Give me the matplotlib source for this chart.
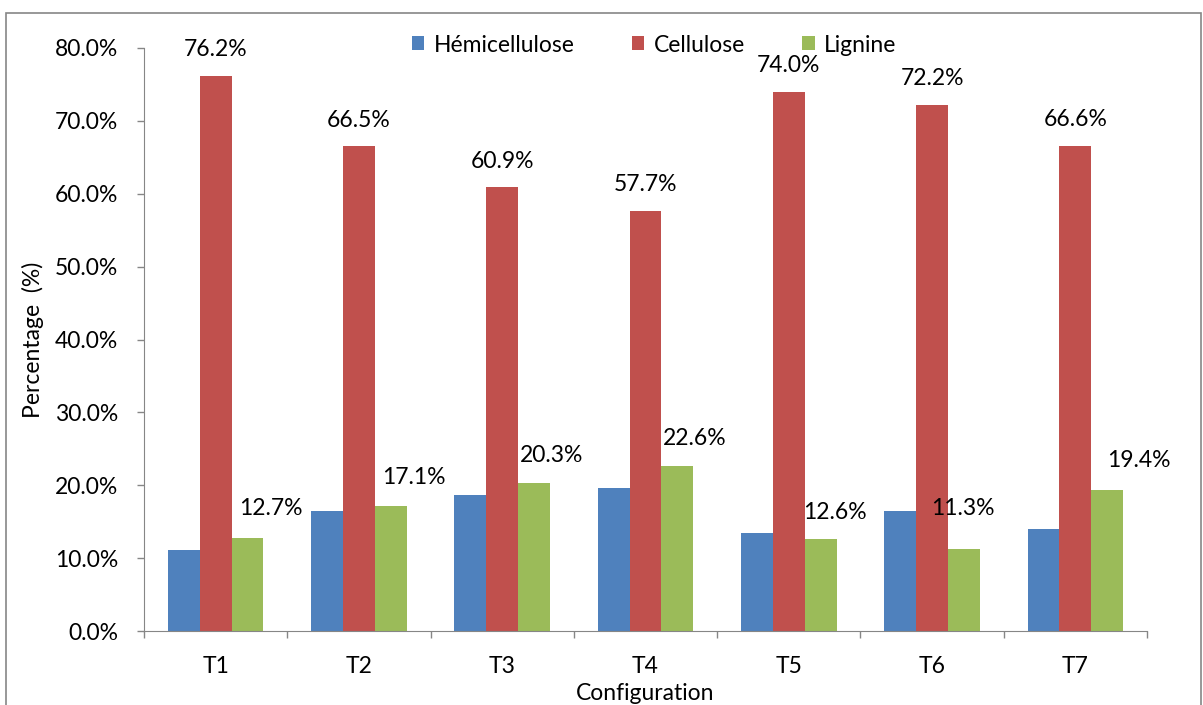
import matplotlib
matplotlib.use('Agg')
import matplotlib.pyplot as plt
import matplotlib.patches as mpatches
import numpy as np

configs = ['T1', 'T2', 'T3', 'T4', 'T5', 'T6', 'T7']
hemicellulose = [11.1, 16.4, 18.7, 19.6, 13.4, 16.5, 14.0]
cellulose = [76.2, 66.5, 60.9, 57.7, 74.0, 72.2, 66.6]
lignine = [12.7, 17.1, 20.3, 22.6, 12.6, 11.3, 19.4]

# hand placed lignine labels (pixel offsets from bar top)
lig_dx = [23, 23, 18, 17, 14, -1, 32]
lig_dy = [30, 29, 28, 28, 27, 40, 29]

plt.rcParams['font.family'] = ['Lato', 'DejaVu Sans']
fs = 16.5
gray = '#868686'

W, H = 1203, 705
fig = plt.figure(figsize=(W / 100, H / 100), dpi=100)
ax = fig.add_axes([144 / W, 1 - 631 / H, 1003 / W, 583 / H])

x = np.arange(len(configs))
w = 1 / 4.5
b1 = ax.bar(x - w, hemicellulose, w, color='#4F81BD', label='Hémicellulose')
b2 = ax.bar(x, cellulose, w, color='#C0504D', label='Cellulose')
b3 = ax.bar(x + w, lignine, w, color='#9BBB59', label='Lignine')

for xi, v in zip(x, cellulose):
    ax.annotate('%.1f%%' % v, (xi, v), xytext=(0, 26), textcoords='offset pixels',
                ha='center', va='center', fontsize=fs)
for xi, v, dx, dy in zip(x, lignine, lig_dx, lig_dy):
    ax.annotate('%.1f%%' % v, (xi + w, v), xytext=(dx, dy), textcoords='offset pixels',
                ha='center', va='center', fontsize=fs)

ax.set_xlim(-0.5, len(configs) - 0.5)
ax.set_ylim(0, 80)
ax.set_yticks(np.arange(0, 81, 10))
ax.set_yticklabels(['%.1f%%' % t for t in np.arange(0, 81, 10)], fontsize=fs)
ax.set_xticks(np.arange(-0.5, len(configs), 1))
ax.set_xticklabels([])
ax.set_xticks(x, minor=True)
ax.set_xticklabels(configs, minor=True, fontsize=fs)
ax.tick_params(axis='x', which='minor', length=0, pad=18)
ax.tick_params(axis='both', which='major', length=5, color=gray, width=1)
ax.tick_params(axis='y', pad=13.5)

for s in ['top', 'right']:
    ax.spines[s].set_visible(False)
for s in ['left', 'bottom']:
    ax.spines[s].set_color(gray)

ax.set_ylabel('Percentage  (%)', fontsize=fs, labelpad=8)
ax.set_xlabel('Configuration', fontsize=fs, labelpad=4)

fig.legend(handles=[b1, b2, b3], loc='center', bbox_to_anchor=(654 / W, 1 - 45 / H),
           ncol=3, frameon=False, fontsize=fs, handlelength=0.55, handleheight=0.55,
           handletextpad=0.4, columnspacing=2.5, borderpad=0)

fig.patches.append(mpatches.Rectangle((6 / W, -0.02), 1195 / W, 1 - 13 / H + 0.02,
                                      transform=fig.transFigure, fill=False,
                                      edgecolor=gray, lw=1.2))

fig.savefig('out.png', dpi=100)
